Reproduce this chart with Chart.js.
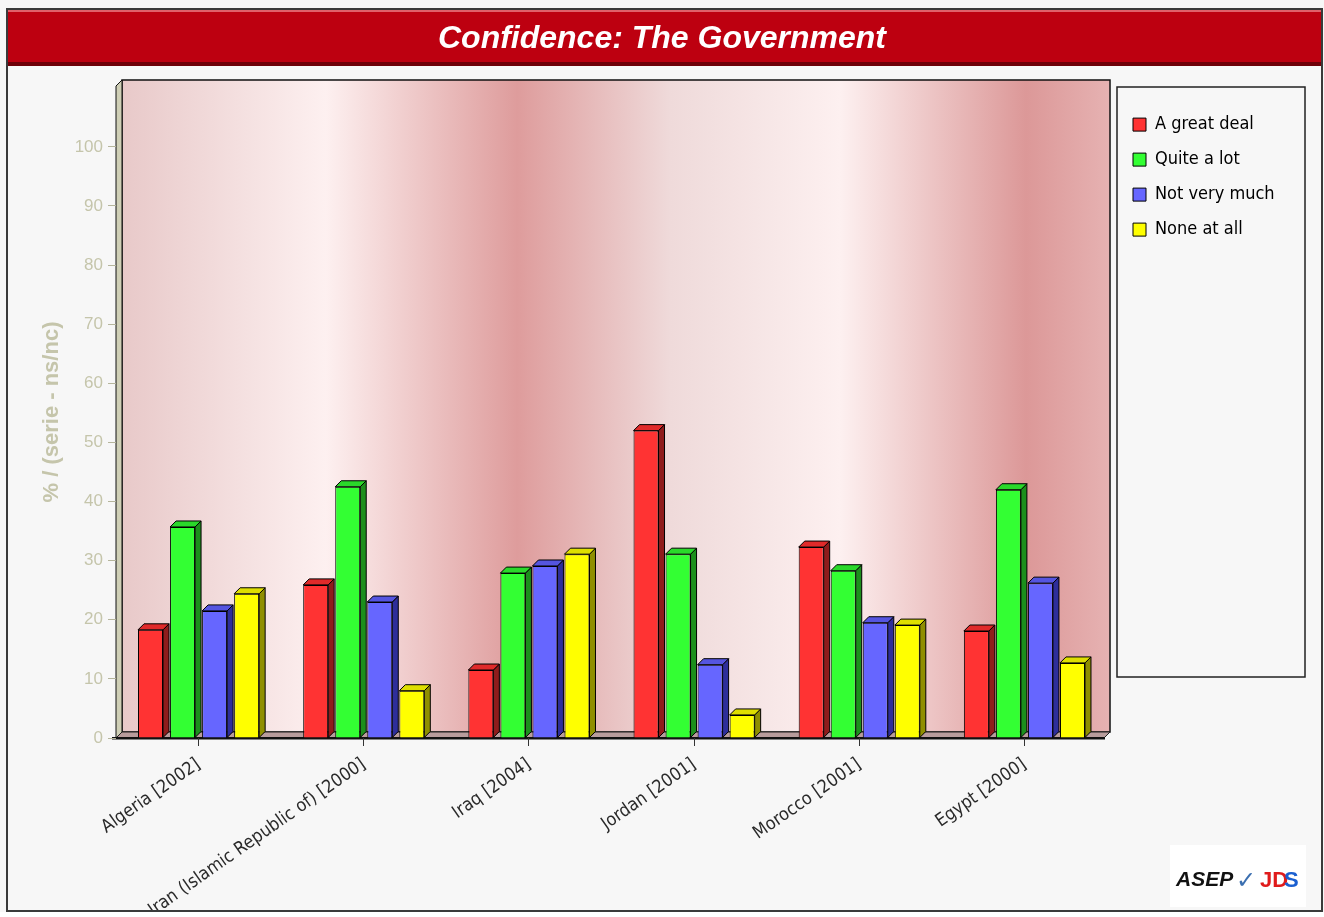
<!DOCTYPE html>
<html><head><meta charset="utf-8">
<script src="https://cdn.jsdelivr.net/npm/chart.js@4.4.0/dist/chart.umd.min.js"></script>
<style>html,body{margin:0;padding:0;background:#f7f7f7;overflow:hidden}</style>
</head><body>
<canvas id="c" width="1324" height="917"></canvas>
<script>
const categories = ['Algeria [2002]', 'Iran (Islamic Republic of) [2000]', 'Iraq [2004]', 'Jordan [2001]', 'Morocco [2001]', 'Egypt [2000]'];
const seriesNames = ['A great deal', 'Quite a lot', 'Not very much', 'None at all'];
const greatDeal   = [18.3, 25.9, 11.5, 52.0, 32.3, 18.1];
const quiteALot   = [35.7, 42.5, 27.9, 31.1, 28.3, 42.0];
const notVeryMuch = [21.5, 23.0, 29.1, 12.4, 19.5, 26.2];
const noneAtAll   = [24.4, 8.0, 31.1, 3.9, 19.1, 12.7];
const yTickValues = [0, 10, 20, 30, 40, 50, 60, 70, 80, 90, 100];

const NARROW = "'Liberation Sans Narrow', 'Arial Narrow', 'DejaVu Sans Condensed', sans-serif";
const SANS = "'Liberation Sans', Arial, sans-serif";
const fronts = ['#ff3333', '#33ff33', '#6666ff', '#ffff00'];
const tops   = ['#e02a2a', '#2ad82a', '#5555e0', '#dede00'];
const sides  = ['#8f1c1c', '#1c8f1c', '#2e2e9a', '#8f8f00'];
const D = 6;

const decor = {
  id: 'decor',
  beforeLayout(chart) {
    const lg = chart.legend;
    if (lg && !lg._patched) {
      const f = lg.fit.bind(lg);
      lg.fit = function () { f(); this.width = 217; };
      lg._patched = true;
    }
  },
  afterLayout(chart) {
    const lg = chart.legend;
    if (lg) { lg.left += 9; lg.right += 9; }
  },
  beforeDraw(chart) {
    const c = chart.ctx, a = chart.chartArea;
    c.save();
    c.fillStyle = '#f7f7f7';
    c.fillRect(0, 0, chart.width, chart.height);
    // title bar
    c.fillStyle = '#bd0010';
    c.fillRect(8, 10, 1314, 56);
    c.fillStyle = '#e0606a';
    c.fillRect(8, 10, 1314, 2);
    c.fillStyle = '#6e0008';
    c.fillRect(8, 62, 1314, 4);
    // back wall gradient
    const L = a.left, R = a.right, T = a.top, B = a.bottom;
    const g = c.createLinearGradient(L + D, 0, R + 3, 0);
    g.addColorStop(0, '#e8c9c9');
    g.addColorStop(0.206, '#fdf0f0');
    g.addColorStop(0.40, '#de9c9c');
    g.addColorStop(0.555, '#efdada');
    g.addColorStop(0.727, '#fdf0f0');
    g.addColorStop(0.915, '#dc9898');
    g.addColorStop(1, '#e6b2b2');
    c.fillStyle = g;
    c.fillRect(L + D, T - D, R + 3 - (L + D), B - T);
    c.strokeStyle = '#111';
    c.lineWidth = 1.5;
    c.strokeRect(L + D, T - D, R + 3 - (L + D), B - T);
    // left wall
    c.beginPath();
    c.moveTo(L, B); c.lineTo(L, T); c.lineTo(L + D, T - D); c.lineTo(L + D, B - D); c.closePath();
    c.fillStyle = '#cfcfb6';
    c.fill();
    c.strokeStyle = '#111'; c.lineWidth = 1; c.stroke();
    // floor
    c.beginPath();
    c.moveTo(L, B); c.lineTo(L + D, B - D); c.lineTo(R + 3, B - D); c.lineTo(R - 3, B); c.closePath();
    c.fillStyle = '#b89c9c';
    c.fill();
    c.strokeStyle = '#222'; c.lineWidth = 1; c.stroke();
    c.fillStyle = '#111';
    c.fillRect(L - 4, B - 1, R - L + 2, 2.5);
    // legend frame
    const lg = chart.legend;
    if (lg) {
      c.strokeStyle = '#222'; c.lineWidth = 1.5;
      c.strokeRect(lg.left + 1, 87, 1305 - lg.left - 1, 590);
    }
    c.restore();
  },
  afterDatasetsDraw(chart) {
    const c = chart.ctx;
    c.save();
    c.lineWidth = 1; c.strokeStyle = '#000'; c.lineJoin = 'round';
    chart.data.datasets.forEach((ds, i) => {
      const meta = chart.getDatasetMeta(i);
      meta.data.forEach(el => {
        const p = el.getProps(['x', 'y', 'base', 'width'], true);
        const l = p.x - p.width / 2, r = p.x + p.width / 2;
        // side
        c.beginPath();
        c.moveTo(r, p.y); c.lineTo(r + D, p.y - D); c.lineTo(r + D, p.base - D); c.lineTo(r, p.base); c.closePath();
        c.fillStyle = sides[i]; c.fill(); c.stroke();
        // top
        c.beginPath();
        c.moveTo(l, p.y); c.lineTo(l + D, p.y - D); c.lineTo(r + D, p.y - D); c.lineTo(r, p.y); c.closePath();
        c.fillStyle = tops[i]; c.fill(); c.stroke();
      });
    });
    c.restore();
  },
  afterDraw(chart) {
    const c = chart.ctx;
    c.save();
    // frame
    c.strokeStyle = '#3a3a3a'; c.lineWidth = 2;
    c.strokeRect(7, 9, 1315, 902);
    c.fillStyle = '#ffffff';
    c.fillRect(0, 912, chart.width, 5);
    // logo
    c.fillStyle = '#ffffff';
    c.fillRect(1170, 845, 136, 62);
    c.textBaseline = 'alphabetic';
    c.fillStyle = '#111';
    c.font = "italic bold 21px 'Liberation Sans', Arial, sans-serif";
    c.fillText('ASEP', 1176, 886);
    c.fillStyle = '#3b6fb0';
    c.font = "bold 24px 'DejaVu Sans', sans-serif";
    c.fillText('\u2713', 1236, 888);
    c.fillStyle = '#e01b1b';
    c.font = "bold 22px 'Liberation Sans Narrow', 'Liberation Sans', sans-serif";
    c.fillText('JD', 1260, 887);
    c.fillStyle = '#1a5fd0';
    c.fillText('S', 1284, 887);
    c.restore();
  }
};

const datasetValues = [greatDeal, quiteALot, notVeryMuch, noneAtAll];

new Chart(document.getElementById('c'), {
  type: 'bar',
  data: {
    labels: categories,
    datasets: seriesNames.map((name, i) => ({
      label: name,
      data: datasetValues[i],
      backgroundColor: fronts[i],
      borderColor: '#000',
      borderWidth: 1,
      categoryPercentage: 0.776,
      barPercentage: 0.78
    }))
  },
  options: {
    responsive: false,
    animation: false,
    devicePixelRatio: 1,
    layout: { padding: { left: 0, right: 0, top: 0, bottom: 0 } },
    plugins: {
      title: {
        display: true,
        text: 'Confidence: The Government',
        color: '#ffffff',
        font: { family: SANS, size: 32, style: 'italic', weight: 'bold', lineHeight: 1.2 },
        padding: { top: 20, bottom: 27.6 }
      },
      legend: {
        position: 'right',
        align: 'start',
        fullSize: false,
        title: { display: true, text: '', font: { size: 10.5 }, padding: 0 },
        labels: {
          boxWidth: 13, boxHeight: 13, padding: 17, color: '#000',
          font: { family: NARROW, size: 18 }
        }
      },
      tooltip: { enabled: false }
    },
    scales: {
      x: {
        type: 'category',
        offset: true,
        border: { display: false },
        grid: { display: true, drawOnChartArea: false, offset: false, tickLength: 8, tickColor: '#333', color: '#333' },
        ticks: { minRotation: 35, maxRotation: 35, color: '#2a2a2a', padding: 8, font: { family: NARROW, size: 18 } },
        afterFit: s => { s.height = 917 - 738; }
      },
      y: {
        min: 0,
        max: 110.3,
        afterBuildTicks: a => { a.ticks = yTickValues.map(v => ({ value: v })); },
        border: { display: false },
        grid: { drawOnChartArea: false, tickLength: 8, tickColor: '#b5b59c', color: '#b5b59c' },
        ticks: { color: '#c5c5ab', padding: 5, font: { family: SANS, size: 17 } },
        title: {
          display: true, text: '% / (serie - ns/nc)', color: '#c5c5ab',
          font: { family: SANS, size: 22, weight: 'bold' }, padding: { top: 39, bottom: 0 }
        },
        afterFit: s => { s.width = 116; }
      }
    }
  },
  plugins: [decor]
});
</script>
</body></html>
